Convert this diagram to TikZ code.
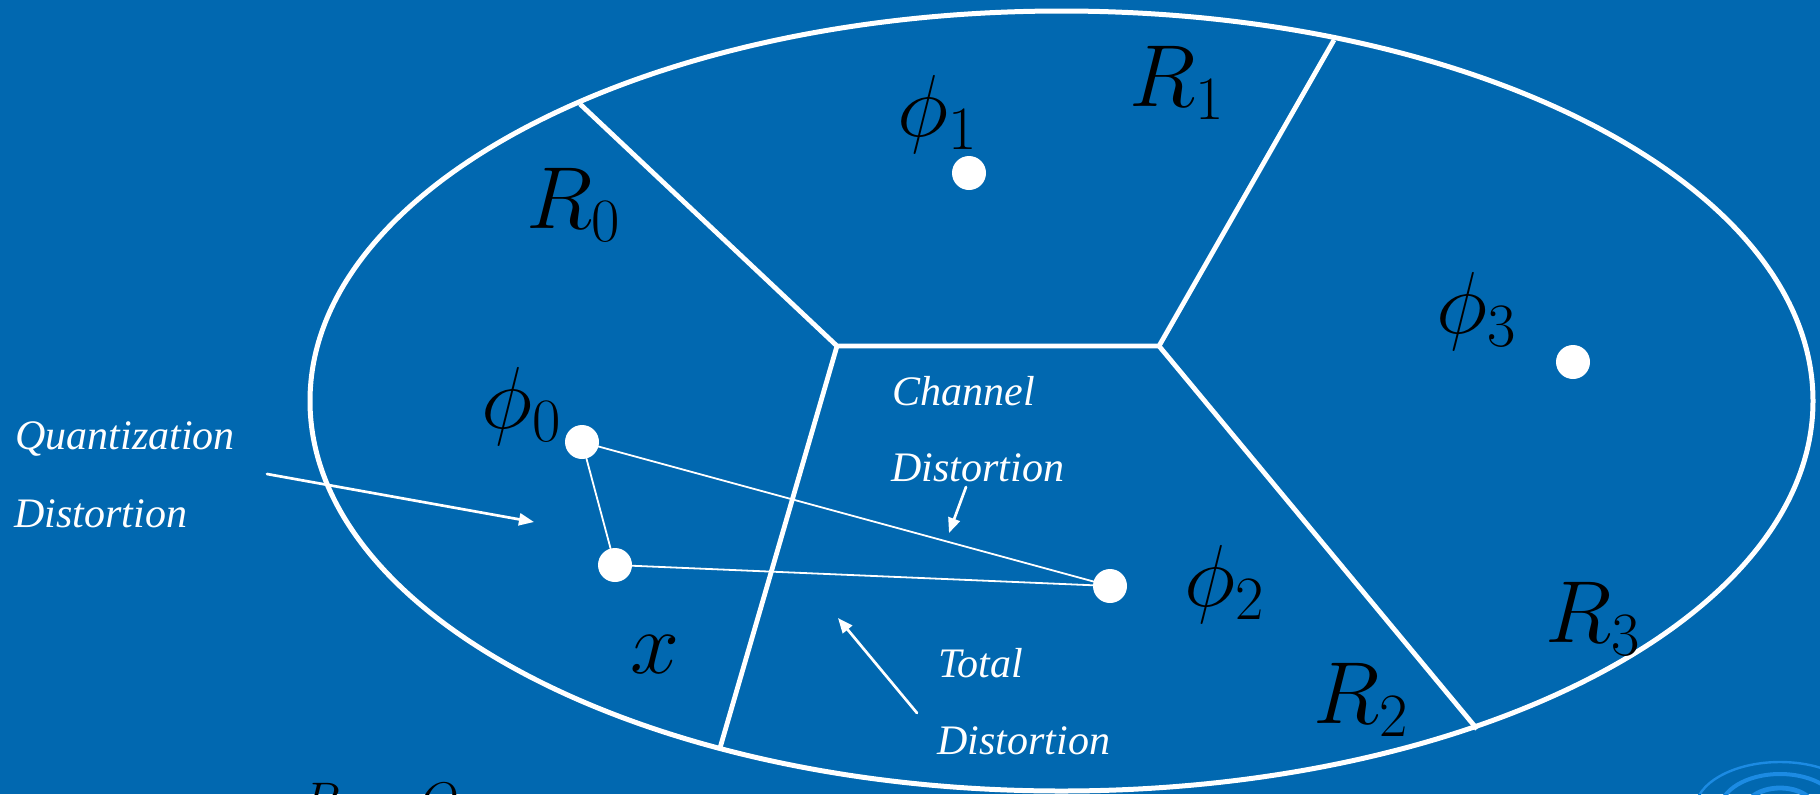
\documentclass[tikz,border=0pt]{standalone}
\usepackage{fix-cm}
\usepackage{fontspec}
\setmainfont{Liberation Serif}
\usetikzlibrary{arrows.meta,positioning}
\definecolor{cSlide}{HTML}{0168B0}
\definecolor{cSwirl}{HTML}{1C8BE3}
\definecolor{cInk}{HTML}{000000}

\begin{document}
\begin{tikzpicture}[
  x=0.5pt, y=-0.5pt,
  line cap=round, line join=round,
  rim/.style={draw=white, line width=2.5pt},
  border/.style={draw=white, line width=2.4pt, line cap=butt, line join=miter},
  link/.style={draw=white, line width=0.9pt},
  pointer/.style={draw=white, line width=1.35pt,
    -{Triangle[length=7.5pt,width=6pt]}},
  dot/.style={circle, fill=white, minimum size=17pt, inner sep=0pt, outer sep=0pt},
  sym/.style={text=cInk, inner sep=0pt, anchor=base west,
    font=\fontsize{44}{48}\selectfont},
  note/.style={text=white, inner sep=0pt, anchor=base west,
    font=\itshape\fontsize{21}{25}\selectfont},
]

% ---- Slide background ----
\useasboundingbox (0,0) rectangle (1820,794);
\fill[cSlide] (0,0) rectangle (1820,794);
\clip (0,0) rectangle (1820,794);

% ---- Template swirl (bottom right) ----
\foreach \rx/\ry/\lw in {85/48/1.2pt, 60/36/2pt, 35/22/2.4pt}{
  \draw[cSwirl, line width=\lw] (1780,810) ellipse [x radius=\rx, y radius=\ry];
}

% ---- Signal space ----
\coordinate (c) at (1061.5,401);
\draw[rim] (c) ellipse [x radius=751.5, y radius=390];

% ---- Region borders ----
\coordinate (jL) at (837,346);
\coordinate (jR) at (1159,346);
\coordinate (eA) at (580,104);
\coordinate (eB) at (1334,40);
\coordinate (eC) at (720,748);
\coordinate (eD) at (1477,729);
\draw[border] (eA) -- (jL) -- (jR) -- (eB);
\draw[border] (jL) -- (eC);
\draw[border] (jR) -- (eD);

% ---- Codevectors and input ----
\node[dot] (p0) at (582,442) {};
\node[dot] (p1) at (969,173) {};
\node[dot] (p2) at (1110,586) {};
\node[dot] (p3) at (1573,362) {};
\node[dot] (px) at (615,565) {};

\draw[link] (p0) -- (px);
\draw[link] (p0) -- (p2);
\draw[link] (px) -- (p2);

% ---- Symbols ----
\node[sym] (lR0) at (526,228) {$R_0$};
\node[sym] (lR1) at (1129,106) {$R_1$};
\node[sym] (lR2) at (1313,723) {$R_2$};
\node[sym] (lR3) at (1545,642) {$R_3$};
\node[sym] (lphi0) at (481,428) {$\phi_0$};
\node[sym] (lphi1) at (897,136) {$\phi_1$};
\node[sym] (lphi2) at (1184,606) {$\phi_2$};
\node[sym] (lphi3) at (1436,333) {$\phi_3$};
\node[sym] (lx) at (630,673) {$x$};
\node[sym, font=\fontsize{25}{30}\selectfont] (lRQ) at (302,817) {$R_0 = Q$};

% ---- Distortion notes ----
\node[note] (tQ) at (15,449) {Quantization};
\node[note] (tQd) at (14,527) {Distortion};
\node[note] (tC) at (892,405) {Channel};
\node[note] (tCd) at (891,481) {Distortion};
\node[note] (tT) at (938,677) {Total};
\node[note] (tTd) at (937,754) {Distortion};

% ---- Pointers ----
\coordinate (qa) at (267,474);
\coordinate (qb) at (534,522);
\coordinate (ca) at (966,487);
\coordinate (cb) at (949,533);
\coordinate (ta) at (917,713);
\coordinate (tb) at (838,618);
\draw[pointer] (qa) -- (qb);
\draw[pointer] (ca) -- (cb);
\draw[pointer] (ta) -- (tb);

\end{tikzpicture}
\end{document}
